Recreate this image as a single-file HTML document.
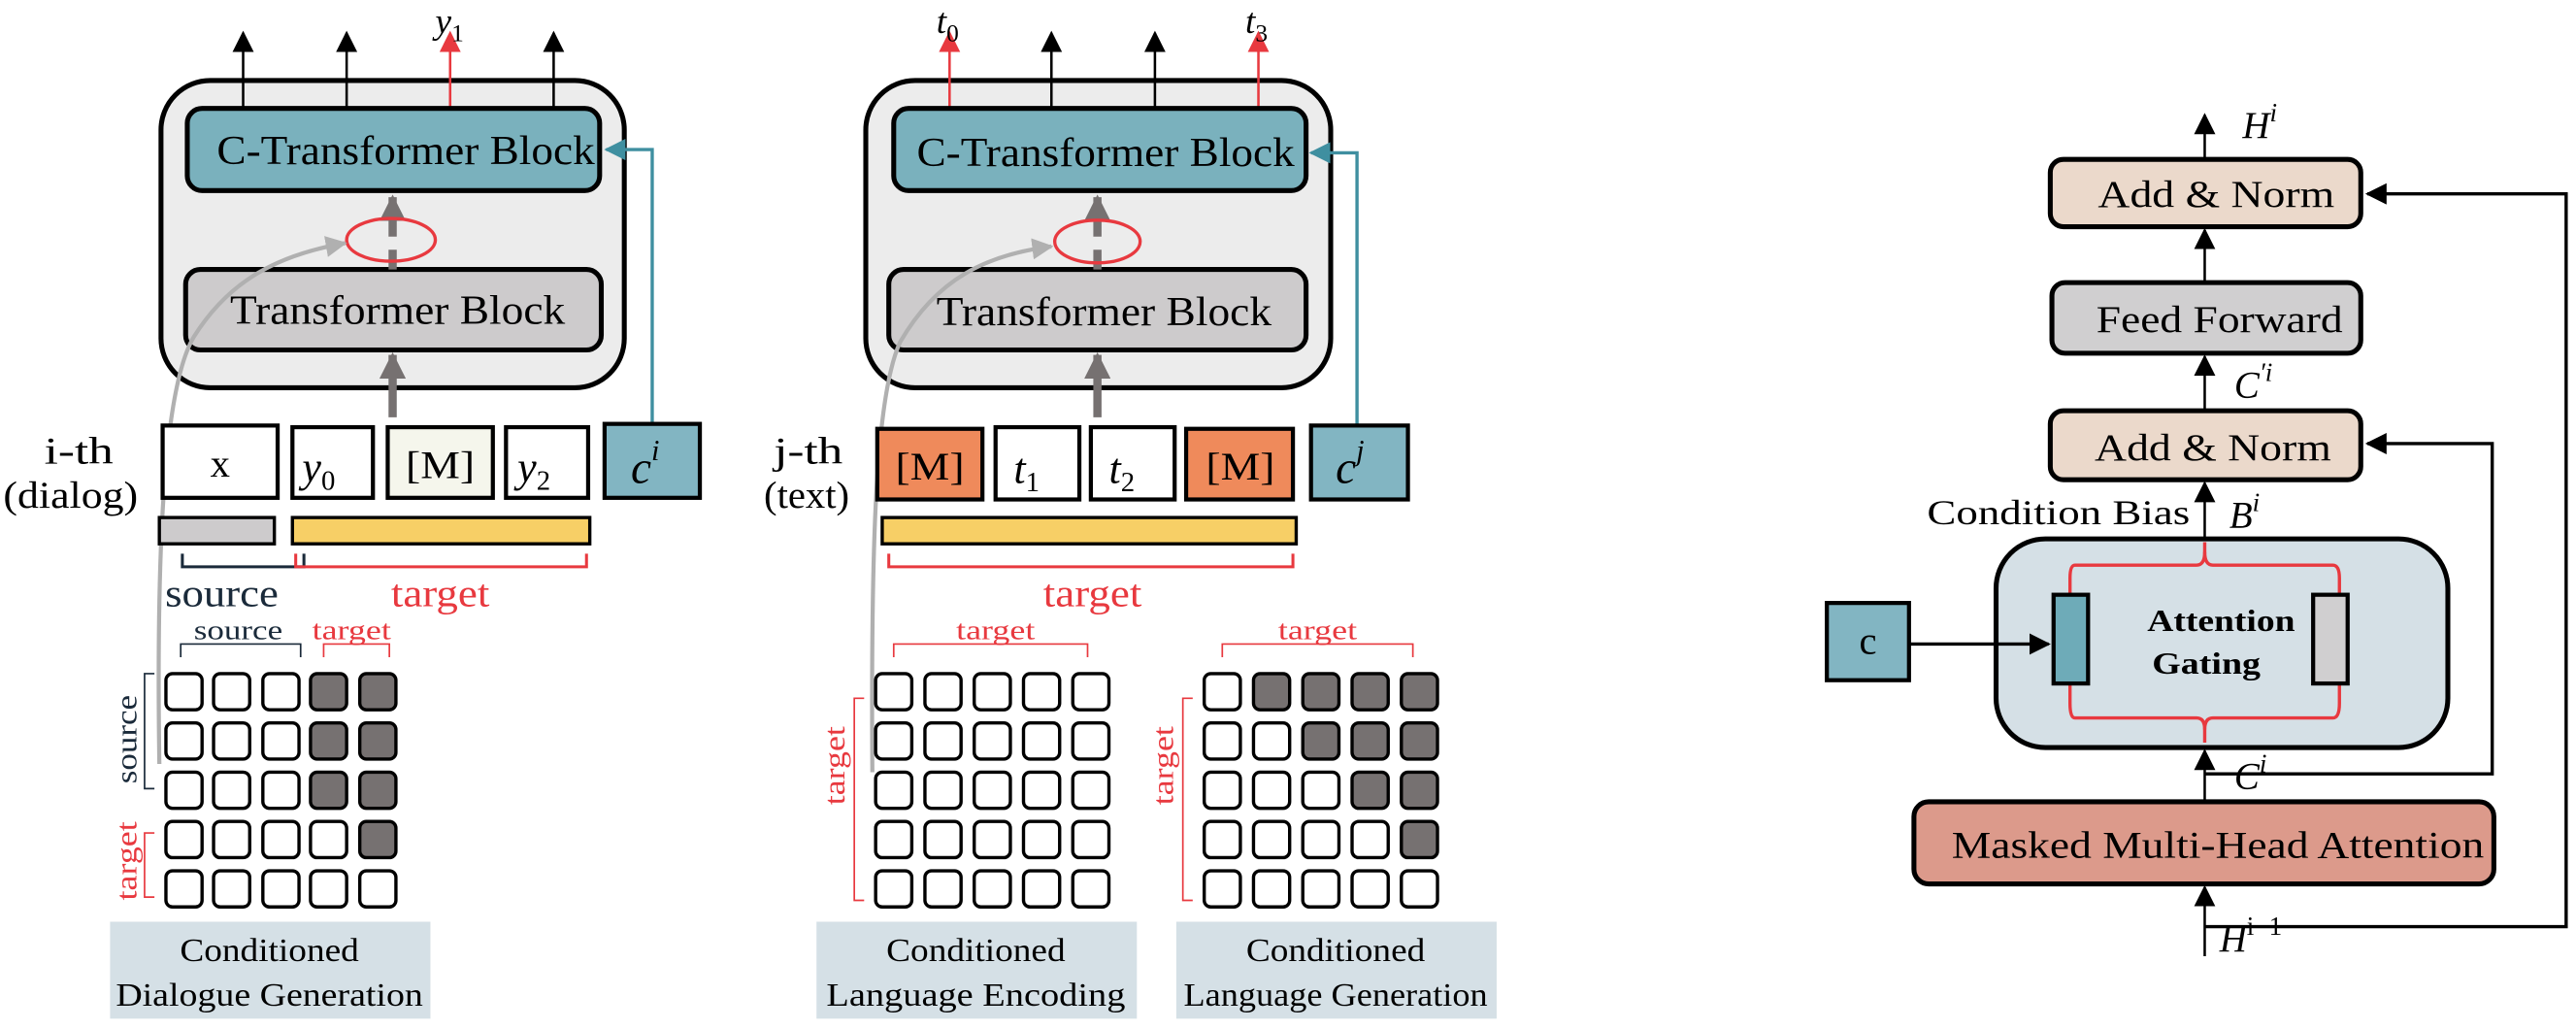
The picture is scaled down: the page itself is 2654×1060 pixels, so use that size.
<!DOCTYPE html>
<html><head><meta charset="utf-8"><style>
html,body{margin:0;padding:0;background:#fff}
svg{display:block}
svg text{font-family:"Liberation Serif","Times New Roman",Times,"Nimbus Roman","DejaVu Serif",serif}
.i{font-style:italic}
</style></head><body>
<svg width="2654" height="1060" viewBox="0 0 1568 626.3" preserveAspectRatio="none" xmlns="http://www.w3.org/2000/svg">
<defs>
<marker id="abk" viewBox="0 0 10 10" refX="9" refY="5" markerWidth="13" markerHeight="13" orient="auto" markerUnits="userSpaceOnUse"><path d="M0,0L10,5L0,10z" fill="#000"/></marker>
<marker id="ar" viewBox="0 0 10 10" refX="9" refY="5" markerWidth="13" markerHeight="13" orient="auto" markerUnits="userSpaceOnUse"><path d="M0,0L10,5L0,10z" fill="#e8393f"/></marker>
<marker id="ag" viewBox="0 0 10 10" refX="9" refY="5" markerWidth="16" markerHeight="16" orient="auto" markerUnits="userSpaceOnUse"><path d="M0,0L10,5L0,10z" fill="#767171"/></marker>
<marker id="al" viewBox="0 0 10 10" refX="9" refY="5" markerWidth="13" markerHeight="13" orient="auto" markerUnits="userSpaceOnUse"><path d="M0,0L10,5L0,10z" fill="#b0b0b0"/></marker>
<marker id="at" viewBox="0 0 10 10" refX="9" refY="5" markerWidth="13" markerHeight="13" orient="auto" markerUnits="userSpaceOnUse"><path d="M0,0L10,5L0,10z" fill="#3f8fa0"/></marker>
</defs>

<!-- ===== LEFT PANEL ===== -->
<g>
<rect x="98" y="49" width="282" height="187" rx="30" fill="#ececec" stroke="#000" stroke-width="3"/>
<line x1="148" y1="66" x2="148" y2="20" stroke="#000" stroke-width="1.5" marker-end="url(#abk)"/>
<line x1="211" y1="66" x2="211" y2="20" stroke="#000" stroke-width="1.5" marker-end="url(#abk)"/>
<line x1="274" y1="66" x2="274" y2="20" stroke="#e8393f" stroke-width="1.5" marker-end="url(#ar)"/>
<line x1="337" y1="66" x2="337" y2="20" stroke="#000" stroke-width="1.5" marker-end="url(#abk)"/>
<text x="265" y="20" font-size="22" class="i">y<tspan font-size="15" font-style="normal" dy="5">1</tspan></text>
<rect x="114" y="66" width="251" height="50" rx="9" fill="#7ab1bd" stroke="#000" stroke-width="3"/>
<text x="247" y="100" font-size="25" text-anchor="middle" textLength="230" lengthAdjust="spacingAndGlyphs">C-Transformer Block</text>
<rect x="113" y="164" width="253" height="49" rx="9" fill="#cdcbcc" stroke="#000" stroke-width="3"/>
<text x="242" y="197" font-size="25" text-anchor="middle" textLength="204" lengthAdjust="spacingAndGlyphs">Transformer Block</text>
<line x1="239" y1="164" x2="239" y2="120" stroke="#767171" stroke-width="5" stroke-dasharray="12,8" marker-end="url(#ag)"/>
<ellipse cx="238" cy="146" rx="27" ry="13" fill="none" stroke="#e8393f" stroke-width="2"/>
<line x1="239" y1="254" x2="239" y2="216" stroke="#767171" stroke-width="5" marker-end="url(#ag)"/>
<path d="M97,465 C95,330 100,235 118,205 C140,170 170,155 210,148" fill="none" stroke="#b0b0b0" stroke-width="2.5" marker-end="url(#al)"/>
<polyline points="397,258 397,91 369,91" fill="none" stroke="#3f8fa0" stroke-width="2" marker-end="url(#at)"/>
<rect x="99" y="259" width="70" height="44" fill="#fff" stroke="#000" stroke-width="2.5"/>
<text x="134" y="290" font-size="24" text-anchor="middle">x</text>
<rect x="178" y="260" width="49" height="43" fill="#fff" stroke="#000" stroke-width="2.5"/>
<text x="184" y="293" font-size="26" class="i">y<tspan font-size="17" font-style="normal" dy="5">0</tspan></text>
<rect x="236" y="260" width="64" height="43" fill="#f5f6ec" stroke="#000" stroke-width="2.5"/>
<text x="268" y="291" font-size="24" text-anchor="middle" textLength="42" lengthAdjust="spacingAndGlyphs">[M]</text>
<rect x="308" y="260" width="50" height="43" fill="#fff" stroke="#000" stroke-width="2.5"/>
<text x="315" y="293" font-size="26" class="i">y<tspan font-size="17" font-style="normal" dy="5">2</tspan></text>
<rect x="368" y="258" width="58" height="45" fill="#82b5c2" stroke="#000" stroke-width="2.5"/>
<text x="384" y="294" font-size="28" class="i">c<tspan font-size="18" dy="-14">i</tspan></text>
<text x="48" y="282" font-size="23" text-anchor="middle" textLength="42" lengthAdjust="spacingAndGlyphs">i-th</text>
<text x="43" y="309" font-size="23" text-anchor="middle" textLength="82" lengthAdjust="spacingAndGlyphs">(dialog)</text>
<rect x="97" y="315" width="70" height="16" fill="#cdcbcc" stroke="#000" stroke-width="2"/>
<rect x="178" y="315" width="181" height="16" fill="#f7cf66" stroke="#000" stroke-width="2"/>
<polyline points="111,337 111,345 185,345 185,337" fill="none" stroke="#1a2a3a" stroke-width="1.8"/>
<polyline points="180,337 180,345 357,345 357,337" fill="none" stroke="#e8393f" stroke-width="1.8"/>
<text x="135" y="369" font-size="24" fill="#1a2a3a" text-anchor="middle" textLength="69" lengthAdjust="spacingAndGlyphs">source</text>
<text x="268" y="369" font-size="24" fill="#e8393f" text-anchor="middle" textLength="60" lengthAdjust="spacingAndGlyphs">target</text>
<text x="145" y="389" font-size="17" fill="#1a2a3a" text-anchor="middle" textLength="54" lengthAdjust="spacingAndGlyphs">source</text>
<text x="214" y="389" font-size="17" fill="#e8393f" text-anchor="middle" textLength="48" lengthAdjust="spacingAndGlyphs">target</text>
<polyline points="110,400 110,392 183,392 183,400" fill="none" stroke="#1a2a3a" stroke-width="1"/>
<polyline points="197,400 197,392 237,392 237,400" fill="none" stroke="#e8393f" stroke-width="1"/>
<polyline points="94,410 88,410 88,480 94,480" fill="none" stroke="#1a2a3a" stroke-width="1"/>
<polyline points="94,507 88,507 88,546 94,546" fill="none" stroke="#e8393f" stroke-width="1"/>
<text transform="translate(83,450) rotate(-90)" font-size="18" fill="#1a2a3a" text-anchor="middle" textLength="54" lengthAdjust="spacingAndGlyphs">source</text>
<text transform="translate(83,524) rotate(-90)" font-size="18" fill="#e8393f" text-anchor="middle" textLength="48" lengthAdjust="spacingAndGlyphs">target</text>
<g stroke="#000" stroke-width="2" fill="#fff">
<rect x="101" y="410" width="22" height="22" rx="4"/><rect x="130" y="410" width="22" height="22" rx="4"/><rect x="160" y="410" width="22" height="22" rx="4"/><rect x="189" y="410" width="22" height="22" rx="4" fill="#767171"/><rect x="219" y="410" width="22" height="22" rx="4" fill="#767171"/>
<rect x="101" y="440" width="22" height="22" rx="4"/><rect x="130" y="440" width="22" height="22" rx="4"/><rect x="160" y="440" width="22" height="22" rx="4"/><rect x="189" y="440" width="22" height="22" rx="4" fill="#767171"/><rect x="219" y="440" width="22" height="22" rx="4" fill="#767171"/>
<rect x="101" y="470" width="22" height="22" rx="4"/><rect x="130" y="470" width="22" height="22" rx="4"/><rect x="160" y="470" width="22" height="22" rx="4"/><rect x="189" y="470" width="22" height="22" rx="4" fill="#767171"/><rect x="219" y="470" width="22" height="22" rx="4" fill="#767171"/>
<rect x="101" y="500" width="22" height="22" rx="4"/><rect x="130" y="500" width="22" height="22" rx="4"/><rect x="160" y="500" width="22" height="22" rx="4"/><rect x="189" y="500" width="22" height="22" rx="4"/><rect x="219" y="500" width="22" height="22" rx="4" fill="#767171"/>
<rect x="101" y="530" width="22" height="22" rx="4"/><rect x="130" y="530" width="22" height="22" rx="4"/><rect x="160" y="530" width="22" height="22" rx="4"/><rect x="189" y="530" width="22" height="22" rx="4"/><rect x="219" y="530" width="22" height="22" rx="4"/>
</g>
<rect x="67" y="561" width="195" height="59" fill="#d5e0e6"/>
<text x="164" y="585" font-size="20" text-anchor="middle" textLength="109" lengthAdjust="spacingAndGlyphs">Conditioned</text>
<text x="164" y="612" font-size="20" text-anchor="middle" textLength="187" lengthAdjust="spacingAndGlyphs">Dialogue Generation</text>
</g>

<!-- ===== MIDDLE PANEL ===== -->
<g>
<rect x="527" y="49" width="283" height="187" rx="30" fill="#ececec" stroke="#000" stroke-width="3"/>
<line x1="578" y1="66" x2="578" y2="20" stroke="#e8393f" stroke-width="1.5" marker-end="url(#ar)"/>
<line x1="640" y1="66" x2="640" y2="20" stroke="#000" stroke-width="1.5" marker-end="url(#abk)"/>
<line x1="703" y1="66" x2="703" y2="20" stroke="#000" stroke-width="1.5" marker-end="url(#abk)"/>
<line x1="766" y1="66" x2="766" y2="20" stroke="#e8393f" stroke-width="1.5" marker-end="url(#ar)"/>
<text x="570" y="20" font-size="22" class="i">t<tspan font-size="15" font-style="normal" dy="5">0</tspan></text>
<text x="758" y="20" font-size="22" class="i">t<tspan font-size="15" font-style="normal" dy="5">3</tspan></text>
<rect x="544" y="66" width="251" height="50" rx="9" fill="#7ab1bd" stroke="#000" stroke-width="3"/>
<text x="673" y="101" font-size="25" text-anchor="middle" textLength="230" lengthAdjust="spacingAndGlyphs">C-Transformer Block</text>
<rect x="541" y="164" width="254" height="49" rx="9" fill="#cdcbcc" stroke="#000" stroke-width="3"/>
<text x="672" y="198" font-size="25" text-anchor="middle" textLength="204" lengthAdjust="spacingAndGlyphs">Transformer Block</text>
<line x1="668" y1="164" x2="668" y2="120" stroke="#767171" stroke-width="5" stroke-dasharray="12,8" marker-end="url(#ag)"/>
<ellipse cx="668" cy="147" rx="26" ry="13" fill="none" stroke="#e8393f" stroke-width="2"/>
<line x1="668" y1="254" x2="668" y2="216" stroke="#767171" stroke-width="5" marker-end="url(#ag)"/>
<path d="M531,470 C530,330 533,240 548,208 C570,170 600,155 640,150" fill="none" stroke="#b0b0b0" stroke-width="2.5" marker-end="url(#al)"/>
<polyline points="826,258 826,93 798,93" fill="none" stroke="#3f8fa0" stroke-width="2" marker-end="url(#at)"/>
<rect x="534" y="261" width="64" height="43" fill="#ef8a5b" stroke="#000" stroke-width="2.5"/>
<text x="566" y="292" font-size="24" text-anchor="middle" textLength="42" lengthAdjust="spacingAndGlyphs">[M]</text>
<rect x="606" y="260" width="51" height="44" fill="#fff" stroke="#000" stroke-width="2.5"/>
<text x="617" y="294" font-size="26" class="i">t<tspan font-size="17" font-style="normal" dy="5">1</tspan></text>
<rect x="664" y="260" width="51" height="44" fill="#fff" stroke="#000" stroke-width="2.5"/>
<text x="675" y="294" font-size="26" class="i">t<tspan font-size="17" font-style="normal" dy="5">2</tspan></text>
<rect x="722" y="261" width="65" height="43" fill="#ef8a5b" stroke="#000" stroke-width="2.5"/>
<text x="755" y="292" font-size="24" text-anchor="middle" textLength="42" lengthAdjust="spacingAndGlyphs">[M]</text>
<rect x="798" y="259" width="59" height="45" fill="#82b5c2" stroke="#000" stroke-width="2.5"/>
<text x="813" y="294" font-size="28" class="i">c<tspan font-size="18" dy="-14">j</tspan></text>
<text x="492" y="282" font-size="23" text-anchor="middle" textLength="42" lengthAdjust="spacingAndGlyphs">j-th</text>
<text x="491" y="309" font-size="23" text-anchor="middle" textLength="52" lengthAdjust="spacingAndGlyphs">(text)</text>
<rect x="537" y="315" width="252" height="16" fill="#f7cf66" stroke="#000" stroke-width="2"/>
<polyline points="541,337 541,345 787,345 787,337" fill="none" stroke="#e8393f" stroke-width="1.8"/>
<text x="665" y="369" font-size="24" fill="#e8393f" text-anchor="middle" textLength="60" lengthAdjust="spacingAndGlyphs">target</text>
<text x="606" y="389" font-size="17" fill="#e8393f" text-anchor="middle" textLength="48" lengthAdjust="spacingAndGlyphs">target</text>
<polyline points="544,400 544,392 662,392 662,400" fill="none" stroke="#e8393f" stroke-width="1"/>
<polyline points="526,425 520,425 520,548 526,548" fill="none" stroke="#e8393f" stroke-width="1"/>
<text transform="translate(514,466) rotate(-90)" font-size="18" fill="#e8393f" text-anchor="middle" textLength="48" lengthAdjust="spacingAndGlyphs">target</text>
<g stroke="#000" stroke-width="2" fill="#fff">
<rect x="533" y="410" width="22" height="22" rx="4"/><rect x="563" y="410" width="22" height="22" rx="4"/><rect x="593" y="410" width="22" height="22" rx="4"/><rect x="623" y="410" width="22" height="22" rx="4"/><rect x="653" y="410" width="22" height="22" rx="4"/>
<rect x="533" y="440" width="22" height="22" rx="4"/><rect x="563" y="440" width="22" height="22" rx="4"/><rect x="593" y="440" width="22" height="22" rx="4"/><rect x="623" y="440" width="22" height="22" rx="4"/><rect x="653" y="440" width="22" height="22" rx="4"/>
<rect x="533" y="470" width="22" height="22" rx="4"/><rect x="563" y="470" width="22" height="22" rx="4"/><rect x="593" y="470" width="22" height="22" rx="4"/><rect x="623" y="470" width="22" height="22" rx="4"/><rect x="653" y="470" width="22" height="22" rx="4"/>
<rect x="533" y="500" width="22" height="22" rx="4"/><rect x="563" y="500" width="22" height="22" rx="4"/><rect x="593" y="500" width="22" height="22" rx="4"/><rect x="623" y="500" width="22" height="22" rx="4"/><rect x="653" y="500" width="22" height="22" rx="4"/>
<rect x="533" y="530" width="22" height="22" rx="4"/><rect x="563" y="530" width="22" height="22" rx="4"/><rect x="593" y="530" width="22" height="22" rx="4"/><rect x="623" y="530" width="22" height="22" rx="4"/><rect x="653" y="530" width="22" height="22" rx="4"/>
</g>
<text x="802" y="389" font-size="17" fill="#e8393f" text-anchor="middle" textLength="48" lengthAdjust="spacingAndGlyphs">target</text>
<polyline points="744,400 744,392 860,392 860,400" fill="none" stroke="#e8393f" stroke-width="1"/>
<polyline points="726,425 720,425 720,548 726,548" fill="none" stroke="#e8393f" stroke-width="1"/>
<text transform="translate(714,466) rotate(-90)" font-size="18" fill="#e8393f" text-anchor="middle" textLength="48" lengthAdjust="spacingAndGlyphs">target</text>
<g stroke="#000" stroke-width="2" fill="#fff">
<rect x="733" y="410" width="22" height="22" rx="4"/><rect x="763" y="410" width="22" height="22" rx="4" fill="#767171"/><rect x="793" y="410" width="22" height="22" rx="4" fill="#767171"/><rect x="823" y="410" width="22" height="22" rx="4" fill="#767171"/><rect x="853" y="410" width="22" height="22" rx="4" fill="#767171"/>
<rect x="733" y="440" width="22" height="22" rx="4"/><rect x="763" y="440" width="22" height="22" rx="4"/><rect x="793" y="440" width="22" height="22" rx="4" fill="#767171"/><rect x="823" y="440" width="22" height="22" rx="4" fill="#767171"/><rect x="853" y="440" width="22" height="22" rx="4" fill="#767171"/>
<rect x="733" y="470" width="22" height="22" rx="4"/><rect x="763" y="470" width="22" height="22" rx="4"/><rect x="793" y="470" width="22" height="22" rx="4"/><rect x="823" y="470" width="22" height="22" rx="4" fill="#767171"/><rect x="853" y="470" width="22" height="22" rx="4" fill="#767171"/>
<rect x="733" y="500" width="22" height="22" rx="4"/><rect x="763" y="500" width="22" height="22" rx="4"/><rect x="793" y="500" width="22" height="22" rx="4"/><rect x="823" y="500" width="22" height="22" rx="4"/><rect x="853" y="500" width="22" height="22" rx="4" fill="#767171"/>
<rect x="733" y="530" width="22" height="22" rx="4"/><rect x="763" y="530" width="22" height="22" rx="4"/><rect x="793" y="530" width="22" height="22" rx="4"/><rect x="823" y="530" width="22" height="22" rx="4"/><rect x="853" y="530" width="22" height="22" rx="4"/>
</g>
<rect x="497" y="561" width="195" height="59" fill="#d5e0e6"/>
<text x="594" y="585" font-size="20" text-anchor="middle" textLength="109" lengthAdjust="spacingAndGlyphs">Conditioned</text>
<text x="594" y="612" font-size="20" text-anchor="middle" textLength="182" lengthAdjust="spacingAndGlyphs">Language Encoding</text>
<rect x="716" y="561" width="195" height="59" fill="#d5e0e6"/>
<text x="813" y="585" font-size="20" text-anchor="middle" textLength="109" lengthAdjust="spacingAndGlyphs">Conditioned</text>
<text x="813" y="612" font-size="20" text-anchor="middle" textLength="185" lengthAdjust="spacingAndGlyphs">Language Generation</text>
</g>

<!-- ===== RIGHT PANEL ===== -->
<g>
<line x1="1342" y1="97" x2="1342" y2="70" stroke="#000" stroke-width="1.5" marker-end="url(#abk)"/>
<text x="1365" y="84" font-size="23" class="i">H<tspan font-size="16" dy="-10">i</tspan></text>
<rect x="1248" y="97" width="189" height="41" rx="8" fill="#ebd9cb" stroke="#000" stroke-width="3"/>
<text x="1349" y="126" font-size="23" text-anchor="middle" textLength="144" lengthAdjust="spacingAndGlyphs">Add &amp; Norm</text>
<line x1="1342" y1="172" x2="1342" y2="140" stroke="#000" stroke-width="1.5" marker-end="url(#abk)"/>
<rect x="1249" y="172" width="188" height="43" rx="8" fill="#d0cfd0" stroke="#000" stroke-width="3"/>
<text x="1351" y="202" font-size="23" text-anchor="middle" textLength="150" lengthAdjust="spacingAndGlyphs">Feed Forward</text>
<line x1="1342" y1="250" x2="1342" y2="217" stroke="#000" stroke-width="1.5" marker-end="url(#abk)"/>
<text x="1360" y="242" font-size="23" class="i">C<tspan font-size="16" dy="-10">′i</tspan></text>
<rect x="1248" y="250" width="189" height="42" rx="8" fill="#ebd9cb" stroke="#000" stroke-width="3"/>
<text x="1347" y="280" font-size="23" text-anchor="middle" textLength="144" lengthAdjust="spacingAndGlyphs">Add &amp; Norm</text>
<line x1="1342" y1="330" x2="1342" y2="294" stroke="#000" stroke-width="1.5" marker-end="url(#abk)"/>
<text x="1253" y="319" font-size="21" text-anchor="middle" textLength="160" lengthAdjust="spacingAndGlyphs">Condition Bias</text>
<text x="1357" y="321" font-size="23" class="i">B<tspan font-size="16" dy="-10">i</tspan></text>
<rect x="1215" y="328" width="275" height="127" rx="30" fill="#d5e0e6" stroke="#000" stroke-width="3"/>
<path d="M1342,330 L1342,336 Q1342,344 1337,344 L1263,344 Q1260,344 1260,352 L1260,362" fill="none" stroke="#e8393f" stroke-width="2"/>
<path d="M1342,336 Q1342,344 1347,344 L1420,344 Q1424,344 1424,352 L1424,362" fill="none" stroke="#e8393f" stroke-width="2"/>
<path d="M1342,452 L1342,444 Q1342,437 1337,437 L1263,437 Q1260,437 1260,428 L1260,416" fill="none" stroke="#e8393f" stroke-width="2"/>
<path d="M1342,444 Q1342,437 1347,437 L1420,437 Q1424,437 1424,428 L1424,416" fill="none" stroke="#e8393f" stroke-width="2"/>
<rect x="1250" y="362" width="21" height="54" fill="#6eabb8" stroke="#000" stroke-width="2.5"/>
<rect x="1408" y="362" width="21" height="54" fill="#d0cfd0" stroke="#000" stroke-width="2.5"/>
<text x="1352" y="384" font-size="19" font-weight="bold" text-anchor="middle" textLength="90" lengthAdjust="spacingAndGlyphs">Attention</text>
<text x="1343" y="410" font-size="19" font-weight="bold" text-anchor="middle" textLength="66" lengthAdjust="spacingAndGlyphs">Gating</text>
<rect x="1112" y="367" width="50" height="47" fill="#82b5c2" stroke="#000" stroke-width="2.5"/>
<text x="1137" y="398" font-size="24" text-anchor="middle">c</text>
<line x1="1162" y1="392" x2="1247" y2="392" stroke="#000" stroke-width="2" marker-end="url(#abk)"/>
<line x1="1342" y1="488" x2="1342" y2="457" stroke="#000" stroke-width="1.5" marker-end="url(#abk)"/>
<text x="1360" y="480" font-size="23" class="i">C<tspan font-size="16" dy="-10">i</tspan></text>
<polyline points="1342,471 1517,471 1517,270 1441,270" fill="none" stroke="#000" stroke-width="2" marker-end="url(#abk)"/>
<rect x="1165" y="488" width="353" height="50" rx="9" fill="#dc9a8b" stroke="#000" stroke-width="3"/>
<text x="1350" y="522" font-size="23" text-anchor="middle" textLength="324" lengthAdjust="spacingAndGlyphs">Masked Multi-Head Attention</text>
<line x1="1342" y1="582" x2="1342" y2="540" stroke="#000" stroke-width="1.5" marker-end="url(#abk)"/>
<polyline points="1342,564 1562,564 1562,118 1441,118" fill="none" stroke="#000" stroke-width="2" marker-end="url(#abk)"/>
<text x="1351" y="579" font-size="23" class="i">H<tspan font-size="16" font-style="normal" dy="-10">i−1</tspan></text>
</g>
</svg>
</body></html>
